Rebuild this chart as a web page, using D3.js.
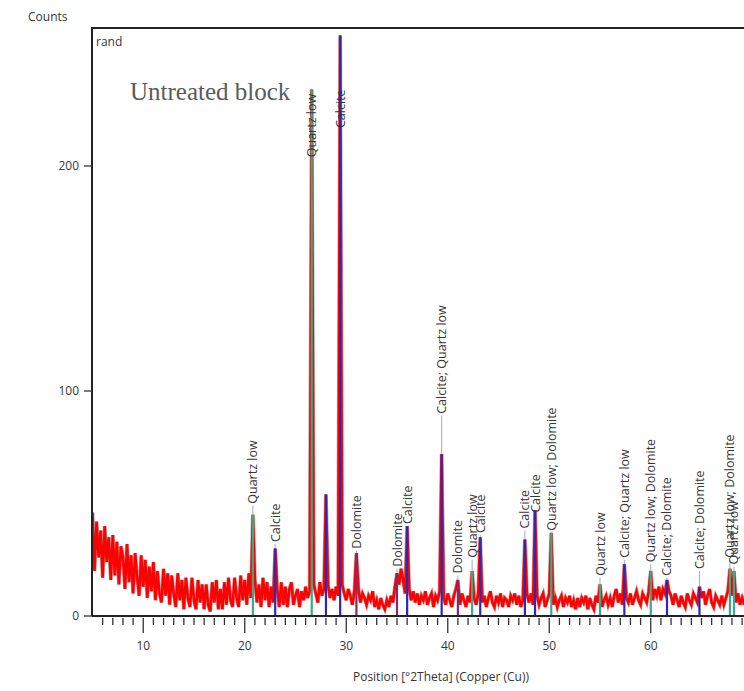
<!DOCTYPE html>
<html>
<head>
<meta charset="utf-8">
<script src="https://cdn.jsdelivr.net/npm/d3@7"></script>
<style>
  body { margin: 0; background: #fff; }
  text { font-family: 'Open Sans', sans-serif; fill: #363636; }
</style>
</head>
<body>
<div id="chart"></div>
<script>
// scan: counts every 0.2 °2Theta from 5.0 to 70.0 (one group of five per degree)
const scanStart = 5, scanStep = 0.2
const counts = [
  46, 20, 42, 26, 38,  17, 40, 24, 35, 16,  36, 18, 33, 14, 31,  26, 12, 32, 15, 27,
  10, 28, 17, 9, 27,  13, 25, 8, 22, 11,  24, 7, 20, 10, 6,  21, 9, 19, 5, 18,
  10, 4, 19, 7, 16,  3, 17, 8, 4, 17,  7, 3, 16, 6, 14,  3, 14, 5, 2, 15,
  6, 16, 3, 12, 3,  15, 5, 17, 7, 4,  17, 8, 4, 18, 7,  16, 5, 19, 8, 45,
  16, 6, 14, 4, 17,  7, 15, 4, 13, 6,  30, 12, 4, 15, 5,  13, 4, 12, 15, 5,
  9, 12, 4, 11, 7,  13, 8, 11, 234, 14,  10, 6, 15, 9, 12,  54, 14, 8, 12, 7,
  13, 9, 258, 14, 10,  7, 12, 9, 5, 11,  28, 12, 6, 10, 8,  5, 9, 7, 11, 4,
  7, 3, 8, 5, 3,  7, 4, 9, 6, 13,  19, 14, 21, 16, 10,  40, 12, 7, 11, 6,
  10, 5, 9, 7, 11,  5, 8, 10, 4, 9,  7, 11, 72, 8, 5,  10, 7, 4, 9, 12,
  16, 5, 10, 7, 4,  9, 6, 20, 8, 5,  10, 35, 6, 9, 4,  8, 11, 6, 4, 9,
  6, 10, 4, 8, 7,  4, 9, 7, 10, 5,  9, 4, 7, 34, 10,  6, 10, 5, 47, 9,
  5, 8, 10, 4, 7,  10, 37, 5, 8, 4,  7, 9, 4, 8, 6,  9, 4, 7, 3, 8,
  4, 8, 6, 9, 3,  8, 5, 3, 9, 6,  14, 4, 7, 9, 5,  8, 4, 9, 12, 6,
  10, 5, 23, 8, 6,  10, 5, 8, 11, 7,  5, 10, 8, 6, 11,  20, 7, 12, 9, 13,
  7, 12, 10, 16, 11,  9, 5, 10, 7, 4,  9, 6, 4, 10, 7,  5, 10, 8, 6, 13,
  8, 11, 5, 9, 12,  6, 4, 9, 7, 5,  9, 5, 8, 11, 21,  9, 20, 6, 10, 5,
  8, 5, 10, 6, 9,  7
]

// identified peaks
const peakPos = [20.8, 23.0, 26.6, 28.0, 29.4, 31.0, 35.0, 36.0, 39.4, 41.0, 42.4,
  43.2, 47.6, 48.6, 50.2, 55.0, 57.4, 60.0, 61.6, 64.8, 67.8, 68.2]
const peakPhase = ['Quartz', 'Calcite', 'Quartz', 'Calcite', 'Calcite', 'Dolomite', 'Dolomite',
  'Calcite', 'Calcite', 'Dolomite', 'Quartz', 'Calcite', 'Calcite', 'Calcite', 'Quartz', 'Quartz',
  'Calcite', 'Quartz', 'Calcite', 'Calcite', 'Quartz', 'Quartz']
const peakLabel = ['Quartz low', 'Calcite', 'Quartz low', '', 'Calcite', 'Dolomite', 'Dolomite',
  'Calcite', 'Calcite; Quartz low', 'Dolomite', 'Quartz low', 'Calcite', 'Calcite', 'Calcite',
  'Quartz low; Dolomite', 'Quartz low', 'Calcite; Quartz low', 'Quartz low; Dolomite',
  'Calcite; Dolomite', 'Calcite; Dolomite', 'Quartz low; Dolomite', 'Quartz low']
const labelCounts = [49, 32, 203, 0, 216, 29, 21, 40, 89, 18, 25, 36, 38, 45, 37, 17, 25, 23,
  17, 20, 25, 22]

const xTicks = [10, 20, 30, 40, 50, 60]
const yTicks = [0, 100, 200]
const phaseColor = { Quartz: '#3aa88a', Calcite: '#2a2ab8', Dolomite: '#7b2d6e' }

const width = 744, height = 691
const svg = d3.select('#chart').append('svg').attr('width', width).attr('height', height)

const x = d3.scaleLinear().domain([5, 70]).range([92.5, 752.25])
const y = d3.scaleLinear().domain([0, 261]).range([616, 28.75])

const scan = counts.map((c, i) => ({ pos: scanStart + i * scanStep, c: c }))
const countAt = (p) => counts[Math.round((p - scanStart) / scanStep)]

svg.append('clipPath').attr('id', 'plot').
    append('rect').attr('x', 92).attr('y', 28).attr('width', 700).attr('height', 588)

const plot = svg.append('g').attr('clip-path', 'url(#plot)')

const line = d3.line().x((d) => x(d.pos)).y((d) => y(d.c))
plot.append('path').attr('d', line(scan)).attr('fill', 'none').
    attr('stroke', '#8b1a1a').attr('stroke-width', 3.8).attr('stroke-opacity', 0.45)
plot.append('path').attr('d', line(scan)).attr('fill', 'none').
    attr('stroke', '#ff0000').attr('stroke-width', 2.6)

const peaks = peakPos.map((p, i) => ({ pos: p, phase: peakPhase[i], label: peakLabel[i], at: labelCounts[i] }))

// leader lines from peak top to label
plot.selectAll('line.leader').
    data(peaks.filter((d) => d.label && d.at > countAt(d.pos))).
    enter().
    append('line').
    attr('x1', (d) => x(d.pos)).attr('x2', (d) => x(d.pos)).
    attr('y1', (d) => y(countAt(d.pos))).attr('y2', (d) => y(d.at)).
    attr('stroke', '#a9a9b8').attr('stroke-width', 1)

// phase sticks
plot.selectAll('line.stick').
    data(peaks).
    enter().
    append('line').
    attr('x1', (d) => x(d.pos)).attr('x2', (d) => x(d.pos)).
    attr('y1', y(0)).attr('y2', (d) => y(countAt(d.pos))).
    attr('stroke', (d) => phaseColor[d.phase]).attr('stroke-width', 2.2)

plot.selectAll('text.peak').
    data(peaks.filter((d) => d.label)).
    enter().
    append('text').
    attr('transform', (d) => `translate(${x(d.pos)},${y(d.at) - 2}) rotate(-90)`).
    attr('dy', '0.36em').
    style('font-size', '12.5px').
    text((d) => d.label)

// frame
svg.append('path').attr('d', `M92,616V28H${width}`).attr('fill', 'none').
    attr('stroke', '#222').attr('stroke-width', 2)

// x axis
const xAxis = svg.append('g').attr('transform', 'translate(0,616)')
xAxis.append('line').attr('x1', 92).attr('x2', width).attr('stroke', '#222').attr('stroke-width', 2)
xAxis.selectAll('line.minor').
    data(d3.range(6, 70).filter((d) => d % 10 !== 0)).
    enter().
    append('line').
    attr('x1', (d) => x(d)).attr('x2', (d) => x(d)).
    attr('y1', 2).attr('y2', 9).
    attr('stroke', '#333').attr('stroke-width', 1.3)
xAxis.selectAll('line.major').
    data(xTicks).
    enter().
    append('line').
    attr('x1', (d) => x(d)).attr('x2', (d) => x(d)).
    attr('y1', 2).attr('y2', 17).
    attr('stroke', '#333').attr('stroke-width', 1.3)
xAxis.selectAll('text').
    data(xTicks).
    enter().
    append('text').
    attr('x', (d) => x(d)).attr('y', 34).
    attr('text-anchor', 'middle').
    style('font-size', '12px').
    text((d) => d)

// y axis
const yAxis = svg.append('g')
yAxis.selectAll('line').
    data(yTicks).
    enter().
    append('line').
    attr('x1', 84).attr('x2', 92).
    attr('y1', (d) => y(d)).attr('y2', (d) => y(d)).
    attr('stroke', '#333').attr('stroke-width', 1.3)
yAxis.selectAll('text').
    data(yTicks).
    enter().
    append('text').
    attr('x', 79).attr('y', (d) => y(d)).attr('dy', '0.35em').
    attr('text-anchor', 'end').
    style('font-size', '12px').
    text((d) => d)

svg.append('text').attr('x', 28).attr('y', 21).style('font-size', '12px').text('Counts')
svg.append('text').attr('x', 96).attr('y', 46).style('font-size', '12px').text('rand')
svg.append('text').attr('x', 130).attr('y', 100).
    style('font-family', "'Liberation Serif', serif").style('font-size', '25px').style('fill', '#5a5a5a').
    text('Untreated block')
svg.append('text').attr('x', 441).attr('y', 681).attr('text-anchor', 'middle').
    style('font-size', '12px').text('Position [°2Theta] (Copper (Cu))')
</script>
</body>
</html>
